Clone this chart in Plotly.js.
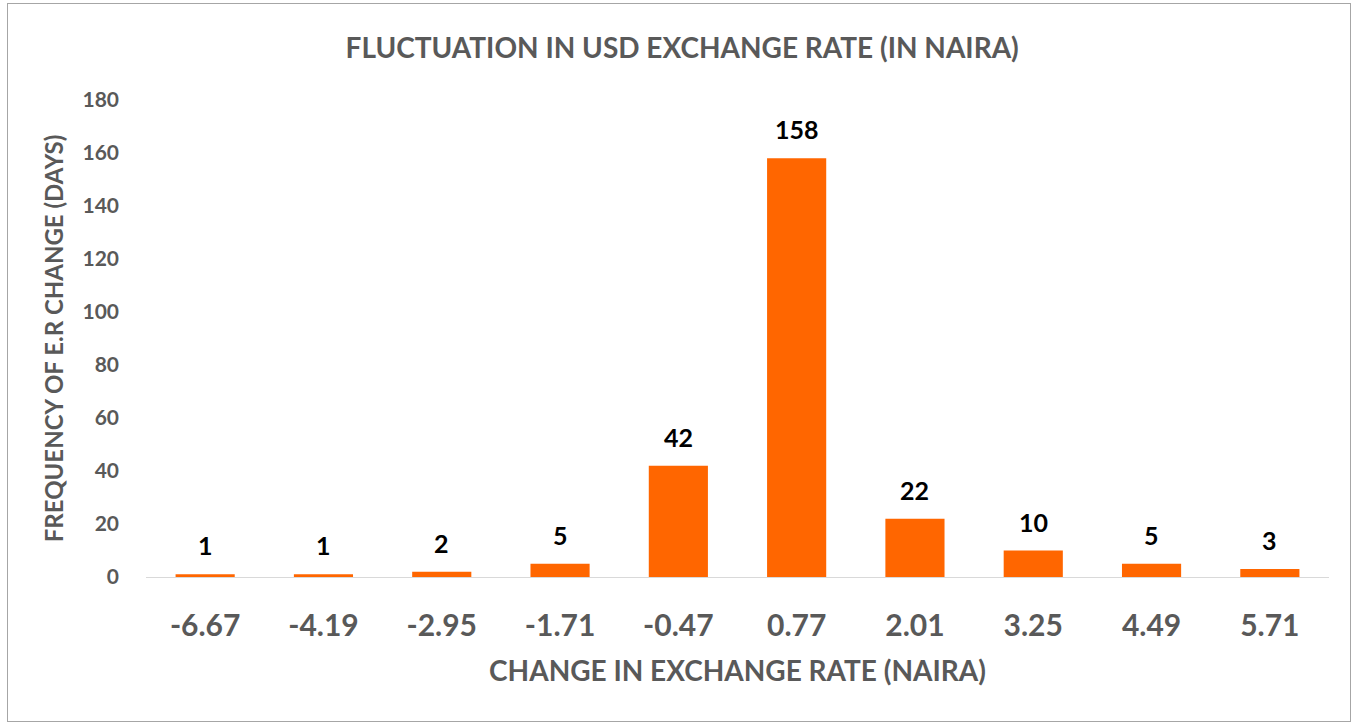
<!DOCTYPE html>
<html><head><meta charset="utf-8">
<script src="https://cdn.plot.ly/plotly-3.0.1.min.js"></script>
<style>
html,body{margin:0;padding:0;background:#fff;}
#chart{position:absolute;left:0;top:0;width:1359px;height:726px;}
#frame{position:absolute;left:7px;top:3px;width:1342px;height:717px;border:1px solid #a6a6a6;pointer-events:none;}
</style></head>
<body>
<div id="chart"></div><div id="frame"></div>
<script>
const categories = ["-6.67","-4.19","-2.95","-1.71","-0.47","0.77","2.01","3.25","4.49","5.71"];
const frequency = [1,1,2,5,42,158,22,10,5,3];
const yTicks = [0,20,40,60,80,100,120,140,160,180];

const font = "Lato, 'Open Sans', sans-serif";
const annotations = categories.map((c,i)=>({
  x:i, y:frequency[i], xref:'x', yref:'y', text:'<b>'+frequency[i]+'</b>',
  showarrow:false, yanchor:'bottom', yshift:12,
  font:{family:font,size:25,color:'#000'}
}));

Plotly.newPlot('chart',[{
  type:'bar', x:categories, y:frequency,
  marker:{color:'#ff6600'}, hoverinfo:'none'
}],{
  width:1359,height:726,
  margin:{l:146,r:30,t:100,b:149},
  paper_bgcolor:'#fff',plot_bgcolor:'#fff',
  bargap:0.5,
  showlegend:false,
  title:{text:'<b>FLUCTUATION IN USD EXCHANGE RATE (IN NAIRA)</b>',x:0.502,xanchor:'center',y:0.934,yanchor:'middle',
    font:{family:font,size:28,color:'#595959'}},
  xaxis:{type:'category',range:[-0.5,9.5],showgrid:false,showline:false,zeroline:false,ticks:'',
    tickfont:{family:font,size:30,color:'#595959',weight:'bold'},ticklabelstandoff:28,
    title:{text:'<b>CHANGE IN EXCHANGE RATE (NAIRA)</b>',standoff:20,font:{family:font,size:28,color:'#595959'}}},
  yaxis:{range:[0,180],tickvals:yTicks,showgrid:false,zeroline:true,zerolinecolor:'#d9d9d9',zerolinewidth:1,
    showline:false,ticks:'',tickfont:{family:font,size:21,color:'#595959',weight:'bold'},ticklabelstandoff:26,
    title:{text:'<b>FREQUENCY OF E.R CHANGE (DAYS)</b>',standoff:12,font:{family:font,size:24,color:'#595959'}}},
  annotations:annotations
},{displayModeBar:false,staticPlot:true});
</script>
</body></html>
